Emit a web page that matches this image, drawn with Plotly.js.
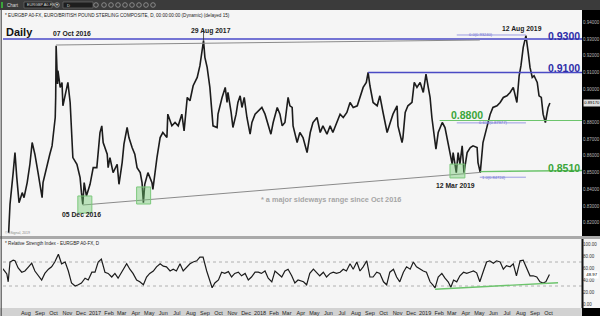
<!DOCTYPE html>
<html><head><meta charset="utf-8">
<script src="https://cdn.plot.ly/plotly-3.0.1.min.js"></script>
<style>html,body{margin:0;padding:0;background:#f5f5f5;overflow:hidden}#chart{width:600px;height:316px}</style>
</head><body><div id="chart"></div>
<script>
// ---------- DATA ----------
const priceDates = [
'2016-06-24','2016-06-27','2016-07-04','2016-07-08','2016-07-12','2016-07-17','2016-07-24','2016-07-28','2016-08-04','2016-08-10',
'2016-08-15','2016-08-21','2016-08-28','2016-09-06','2016-09-08','2016-09-17','2016-09-23','2016-09-28','2016-10-05','2016-10-06',
'2016-10-07','2016-10-10','2016-10-11','2016-10-16','2016-10-20','2016-10-22','2016-10-27','2016-10-31','2016-11-02','2016-11-07',
'2016-11-11','2016-11-13','2016-11-22','2016-11-29','2016-12-02','2016-12-05','2016-12-08','2016-12-13','2016-12-21','2016-12-28',
'2017-01-05','2017-01-08','2017-01-12','2017-01-16','2017-01-19','2017-01-28','2017-01-30','2017-02-03','2017-02-10','2017-02-19',
'2017-02-23','2017-03-02','2017-03-06','2017-03-13','2017-03-17','2017-03-24','2017-03-30','2017-04-04','2017-04-11','2017-04-15',
'2017-04-18','2017-04-21','2017-04-28','2017-05-07','2017-05-09','2017-05-18','2017-05-25','2017-05-31','2017-06-09','2017-06-11',
'2017-06-20','2017-06-27','2017-07-04','2017-07-12','2017-07-17','2017-07-24','2017-07-30','2017-08-06','2017-08-15','2017-08-21',
'2017-08-26','2017-08-29','2017-09-01','2017-09-06','2017-09-12','2017-09-17','2017-09-19','2017-09-28','2017-09-30','2017-10-09',
'2017-10-16','2017-10-20','2017-10-22','2017-10-29','2017-11-02','2017-11-09','2017-11-13','2017-11-18','2017-11-22','2017-11-27',
'2017-12-03','2017-12-10','2017-12-14','2017-12-21','2017-12-28','2018-01-05','2018-01-12','2018-01-19','2018-01-25','2018-01-30',
'2018-02-08','2018-02-14','2018-02-19','2018-02-25','2018-03-04','2018-03-08','2018-03-13','2018-03-15','2018-03-19','2018-03-24',
'2018-03-30','2018-04-06','2018-04-15','2018-04-22','2018-04-28','2018-05-07','2018-05-14','2018-05-20','2018-05-29','2018-06-05',
'2018-06-11','2018-06-20','2018-06-27','2018-07-04','2018-07-12','2018-07-19','2018-07-26','2018-08-04','2018-08-10','2018-08-17',
'2018-08-24','2018-08-28','2018-09-01','2018-09-08','2018-09-17','2018-09-23','2018-09-30','2018-10-09','2018-10-16','2018-10-22',
'2018-10-31','2018-11-02','2018-11-11','2018-11-13','2018-11-18','2018-11-24','2018-12-03','2018-12-08','2018-12-14','2018-12-21',
'2018-12-28','2019-01-03','2019-01-08','2019-01-12','2019-01-16','2019-01-21','2019-01-25','2019-01-30','2019-02-08','2019-02-14',
'2019-02-21','2019-03-02','2019-03-04','2019-03-11','2019-03-15','2019-03-19','2019-03-24','2019-03-28','2019-04-04','2019-04-11',
'2019-04-17','2019-04-26','2019-04-28','2019-05-03','2019-05-09','2019-05-18','2019-05-25','2019-05-31','2019-06-09','2019-06-16',
'2019-06-23','2019-07-01','2019-07-08','2019-07-15','2019-07-23','2019-07-28','2019-08-01','2019-08-06','2019-08-12','2019-08-17',
'2019-08-21','2019-08-26','2019-08-30','2019-09-06','2019-09-10','2019-09-15','2019-09-19','2019-09-24','2019-09-28','2019-09-30',
'2019-10-04'];
const priceValues = [
0.814,0.831,0.850,0.862,0.847,0.832,0.838,0.835,0.844,0.855,
0.868,0.861,0.850,0.835,0.844,0.855,0.861,0.866,0.883,0.895,
0.926,0.903,0.911,0.901,0.904,0.890,0.896,0.901,0.904,0.892,
0.873,0.859,0.855,0.847,0.838,0.831,0.844,0.836,0.843,0.853,
0.853,0.862,0.874,0.878,0.868,0.861,0.853,0.859,0.850,0.855,
0.843,0.856,0.867,0.877,0.871,0.865,0.861,0.853,0.850,0.844,
0.832,0.843,0.850,0.844,0.840,0.859,0.871,0.874,0.871,0.885,
0.878,0.880,0.878,0.885,0.875,0.895,0.893,0.902,0.907,0.914,
0.922,0.929,0.919,0.913,0.901,0.886,0.878,0.877,0.885,0.895,
0.901,0.892,0.898,0.886,0.877,0.885,0.892,0.896,0.889,0.895,
0.883,0.873,0.880,0.885,0.887,0.889,0.885,0.878,0.873,0.880,
0.889,0.885,0.878,0.880,0.895,0.890,0.889,0.878,0.873,0.868,
0.874,0.871,0.862,0.874,0.880,0.883,0.874,0.878,0.873,0.878,
0.874,0.880,0.885,0.883,0.886,0.892,0.889,0.890,0.895,0.901,
0.904,0.910,0.902,0.892,0.890,0.896,0.886,0.874,0.880,0.885,
0.890,0.878,0.868,0.871,0.886,0.890,0.892,0.904,0.901,0.904,
0.898,0.909,0.901,0.895,0.883,0.873,0.864,0.874,0.880,0.877,
0.868,0.855,0.862,0.850,0.862,0.855,0.866,0.850,0.862,0.865,
0.866,0.865,0.856,0.850,0.868,0.878,0.885,0.889,0.890,0.892,
0.895,0.896,0.898,0.901,0.892,0.908,0.914,0.925,0.932,0.922,
0.913,0.907,0.908,0.904,0.896,0.895,0.885,0.880,0.885,0.889,
0.8917];

const rsiDates = [
'2016-06-05','2016-06-12','2016-06-20','2016-06-23','2016-06-27','2016-07-04','2016-07-08','2016-07-15','2016-07-23','2016-07-30',
'2016-08-07','2016-08-14','2016-08-21','2016-08-29','2016-09-05','2016-09-12','2016-09-20','2016-09-27','2016-10-04','2016-10-12',
'2016-10-19','2016-10-27','2016-11-03','2016-11-10','2016-11-18','2016-11-25','2016-12-02','2016-12-10','2016-12-17','2016-12-25',
'2017-01-01','2017-01-08','2017-01-15','2017-01-23','2017-01-30','2017-02-07','2017-02-14','2017-02-21','2017-03-01','2017-03-12',
'2017-03-19','2017-03-26','2017-04-03','2017-04-10','2017-04-18','2017-04-25','2017-05-02','2017-05-10','2017-05-17','2017-05-25',
'2017-06-01','2017-06-08','2017-06-16','2017-06-23','2017-06-30','2017-07-08','2017-07-15','2017-07-23','2017-07-30','2017-08-06',
'2017-08-14','2017-08-21','2017-08-28','2017-09-05','2017-09-12','2017-09-17','2017-09-23','2017-10-01','2017-10-08','2017-10-15',
'2017-10-23','2017-10-30','2017-11-06','2017-11-14','2017-11-21','2017-11-29','2017-12-06','2017-12-13','2017-12-21','2017-12-28',
'2018-01-04','2018-01-12','2018-01-19','2018-01-27','2018-02-03','2018-02-10','2018-02-18','2018-02-25','2018-03-04','2018-03-12',
'2018-03-19','2018-03-26','2018-04-07','2018-04-14','2018-04-21','2018-04-29','2018-05-06','2018-05-13','2018-05-21','2018-05-28',
'2018-06-05','2018-06-12','2018-06-19','2018-06-27','2018-07-04','2018-07-11','2018-07-19','2018-07-26','2018-08-03','2018-08-10',
'2018-08-17','2018-08-25','2018-09-01','2018-09-08','2018-09-16','2018-09-23','2018-10-01','2018-10-08','2018-10-15','2018-10-23',
'2018-10-30','2018-11-06','2018-11-14','2018-11-21','2018-11-29','2018-12-06','2018-12-13','2018-12-21','2018-12-28','2019-01-04',
'2019-01-12','2019-01-18','2019-01-23','2019-01-30','2019-02-07','2019-02-14','2019-02-21','2019-02-27','2019-03-05','2019-03-12',
'2019-03-19','2019-03-27','2019-04-03','2019-04-10','2019-04-18','2019-04-25','2019-05-02','2019-05-10','2019-05-17','2019-05-24',
'2019-06-01','2019-06-08','2019-06-16','2019-06-23','2019-06-30','2019-07-08','2019-07-15','2019-07-22','2019-07-30','2019-08-06',
'2019-08-14','2019-08-21','2019-08-28','2019-09-05','2019-09-12','2019-09-19','2019-09-25','2019-10-03'];
const rsiValues = [
58,58,50,37,70,73,72,60,53,55,
62,68,55,48,40,51,58,62,70,83,
67,70,55,35,30,32,35,43,40,53,
53,70,75,53,51,45,51,43,53,67,
58,51,40,37,32,45,51,55,62,67,
63,62,55,58,55,67,55,62,67,70,
72,78,78,55,40,27,35,40,53,51,
54,45,51,53,47,51,40,45,53,53,
51,55,43,37,55,51,45,55,58,47,
35,40,37,32,51,58,53,47,53,45,
51,53,51,53,58,55,67,58,70,55,
62,72,45,45,53,51,37,32,53,58,
45,37,53,62,58,70,62,58,55,53,
37,32,27,45,51,43,37,28,40,37,
47,53,51,53,55,52,37,55,70,72,
68,72,70,58,64,62,67,47,72,73,
58,47,47,45,37,35,37,49];

const monthTickDates = ['2016-08-01','2016-09-01','2016-10-01','2016-11-01','2016-12-01',
'2017-01-01','2017-02-01','2017-03-01','2017-04-01','2017-05-01','2017-06-01','2017-07-01','2017-08-01','2017-09-01','2017-10-01','2017-11-01','2017-12-01',
'2018-01-01','2018-02-01','2018-03-01','2018-04-01','2018-05-01','2018-06-01','2018-07-01','2018-08-01','2018-09-01','2018-10-01','2018-11-01','2018-12-01',
'2019-01-01','2019-02-01','2019-03-01','2019-04-01','2019-05-01','2019-06-01','2019-07-01','2019-08-01','2019-09-01','2019-10-01'];
const monthTickLabels = ['Aug','Sep','Oct','Nov','Dec',
'2017','Feb','Mar','Apr','May','Jun','Jul','Aug','Sep','Oct','Nov','Dec',
'2018','Feb','Mar','Apr','May','Jun','Jul','Aug','Sep','Oct','Nov','Dec',
'2019','Feb','Mar','Apr','May','Jun','Jul','Aug','Sep','Oct'];
// 0.89000 is hidden under the last-price marker in the reference
const priceTickValues = [0.82,0.83,0.84,0.85,0.86,0.87,0.88,0.90,0.91,0.92,0.93,0.94];
const priceTickLabels = ['0.82000','0.83000','0.84000','0.85000','0.86000','0.87000','0.88000','0.90000','0.91000','0.92000','0.93000','0.94000'];
const rsiTickValues = [0,20,40,60,80,100];
const rsiTickLabels = ['0.00','20.00','40.00','60.00','80.00','100.00'];
const lastPriceLabel = '0.89170';
const lastRsiLabel = '48.97';

// key levels / drawings
const resistanceTop = 0.93, resistanceMid = 0.91, supportMid = 0.8812, supportLow = 0.851;
const midResStart = '2018-08-28', midSupStart = '2019-02-02', lowSupStart = '2019-05-03';
const upperTrend = {d:['2016-10-07','2019-05-02'], v:[0.9264,0.9294]};
const lowerTrend = {d:['2016-12-05','2019-05-03'], v:[0.8306,0.8501]};
const fibLevels = [
 {v:0.9324,t:'0.0(0.93240)',d0:'2019-03-12',lab:'2019-04-05'},
 {v:0.87977,t:'0.618(0.87977)',d0:'2019-03-12',lab:'2019-04-28'},
 {v:0.84724,t:'1.0(0.84724)',d0:'2019-05-02',lab:'2019-05-04'}];
const fibEnd = '2019-08-12';
const lowBoxes = [
 {d:['2016-11-24','2016-12-25'], v:[0.8258,0.8360]},
 {d:['2017-04-03','2017-05-04'], v:[0.8312,0.8414]},
 {d:['2019-02-25','2019-03-30'], v:[0.8468,0.8551]}];
const rsiTrend = {d:['2019-01-23','2019-10-22'], v:[24.5,35.5]};
const rsiBands = [70,30];

// ---------- LAYOUT HELPERS (pixel -> paper) ----------
const L=3, R=18, T=11, B=8, W=600, H=316;
const pw=W-L-R, ph=H-T-B;
const px=x=>(x-L)/pw, py=y=>(H-B-y)/ph;
const FONT='Liberation Sans, Arial, sans-serif';

const shapes=[], annotations=[];
function rectPx(x0,y0,x1,y1,fill,line,layer){shapes.push({type:'rect',xref:'paper',yref:'paper',x0:px(x0),x1:px(x1),y0:py(y1),y1:py(y0),fillcolor:fill,line:{width:line?line.w:0,color:line?line.c:fill},layer:layer||'below'});}
function linePx(x0,y0,x1,y1,c,w,layer){shapes.push({type:'line',xref:'paper',yref:'paper',x0:px(x0),x1:px(x1),y0:py(y0),y1:py(y1),line:{color:c,width:w},layer:layer||'above'});}
function textPx(t,x,y,size,color,opts){opts=opts||{};annotations.push(Object.assign({text:t,xref:'paper',yref:'paper',x:px(x),y:py(y),xanchor:'left',yanchor:'middle',showarrow:false,font:{family:FONT,size:size,color:color}},opts));}

// chrome
rectPx(0,0,600,10,'#3b3b3b');
rectPx(582,10,600,237,'#000000');
rectPx(0,236,600,239,'#a9a9a9',null,'above');
rectPx(0,308,582,316,'#d2d2d2');
rectPx(582,308,600,316,'#000000');
linePx(582.5,239,582.5,308,'#111',2);
linePx(1.2,10,1.2,316,'#555',1.2);
// toolbar widgets
rectPx(1,2,3,8,'#3aa53a');
rectPx(24,2,52,8,'#1e1e1e',{w:0.6,c:'#777'},'above');
rectPx(63,2,93,8,'#1e1e1e',{w:0.6,c:'#777'},'above');
[57,96,104,111,118,125,132,139,146,153].forEach(cx=>shapes.push({type:'circle',xref:'paper',yref:'paper',x0:px(cx-2.3),x1:px(cx+2.3),y0:py(7.3),y1:py(2.7),line:{color:'#9a9a9a',width:0.8},layer:'above'}));
textPx('Chart',5,5,4.5,'#dddddd');
textPx('EURGBP A0-FX ▾',25,5,3.8,'#dddddd');
textPx('D',65,5,4,'#dddddd');

// texts
textPx('* EURGBP A0-FX, EURO/BRITISH POUND STERLING COMPOSITE, D, 00:00:00:00 (Dynamic) (delayed 15)',3,15,4.6,'#222');
textPx('<b>Daily</b>',4,32.5,11,'#111');
textPx('<b>07 Oct 2016</b>',51,33,6.8,'#222');
textPx('<b>29 Aug 2017</b>',211,31.5,6.8,'#222',{xanchor:'center'});
textPx('<b>12 Aug 2019</b>',522,29,6.8,'#222',{xanchor:'center'});
textPx('<b>0.9300</b>',581.5,35.5,10.5,'#2e2ea8',{xanchor:'right'});
textPx('<b>0.9100</b>',581.5,68.5,10.5,'#2e2ea8',{xanchor:'right'});
textPx('<b>0.8800</b>',450,114.5,10.5,'#3aa53a',{borderpad:0});
textPx('<b>0.8510</b>',581.5,167.5,10.5,'#3aa53a',{xanchor:'right'});
textPx('<b>05 Dec 2016</b>',81,214,6.8,'#222',{xanchor:'center'});
textPx('<b>12 Mar 2019</b>',455,185,6.8,'#222',{xanchor:'center'});
textPx('<b>* a major sideways range since Oct 2016</b>',331,199.5,7.3,'#a6a6a6',{xanchor:'center'});
textPx('© eSignal, 2019',3,233,3.5,'#888');
textPx('* Relative Strength Index - EURGBP A0-FX, D',3,243.5,4.6,'#222');
textPx(lastPriceLabel,582.6,103,4.2,'#000',{bgcolor:'#e0e0e0',borderpad:0.3});
textPx(lastRsiLabel,585,274.5,4.3,'#000',{bgcolor:'#ffffff',borderpad:0.3});

// data-referenced drawings
shapes.push({type:'line',xref:'paper',yref:'y',x0:0,x1:1,y0:resistanceTop,y1:resistanceTop,line:{color:'#7474d4',width:2},layer:'above'});
shapes.push({type:'line',xref:'x',yref:'y',x0:upperTrend.d[0],x1:upperTrend.d[1],y0:upperTrend.v[0],y1:upperTrend.v[1],line:{color:'#8a8a8a',width:1},layer:'above'});
shapes.push({type:'line',xref:'x',yref:'y',x0:midResStart,x1:'2019-12-14',y0:resistanceMid,y1:resistanceMid,line:{color:'#4a4ac4',width:1.5},layer:'above'});
shapes.push({type:'line',xref:'x',yref:'y',x0:midSupStart,x1:'2019-12-14',y0:supportMid,y1:supportMid,line:{color:'#6cc46c',width:1.2},layer:'above'});
shapes.push({type:'line',xref:'x',yref:'y',x0:lowSupStart,x1:'2019-12-14',y0:supportLow-0.0004,y1:supportLow+0.0003,line:{color:'#6cc46c',width:1.4},layer:'above'});
shapes.push({type:'line',xref:'x',yref:'y',x0:lowerTrend.d[0],x1:lowerTrend.d[1],y0:lowerTrend.v[0],y1:lowerTrend.v[1],line:{color:'#8a8a8a',width:1},layer:'above'});
shapes.push({type:'line',xref:'x',yref:'y',x0:'2017-08-29',x1:'2017-08-29',y0:0.929,y1:0.9355,line:{color:'#333',width:0.8},layer:'above'});
fibLevels.forEach(f=>{
  shapes.push({type:'line',xref:'x',yref:'y',x0:f.d0,x1:fibEnd,y0:f.v,y1:f.v,line:{color:'#9c9ce4',width:1},layer:'above'});
  annotations.push({text:f.t,xref:'x',yref:'y',x:f.lab,y:f.v,xanchor:'left',yanchor:'middle',showarrow:false,borderpad:0,font:{family:FONT,size:4.1,color:'#6a6ad0'}});
});
lowBoxes.forEach(b=>shapes.push({type:'rect',xref:'x',yref:'y',x0:b.d[0],x1:b.d[1],y0:b.v[0],y1:b.v[1],fillcolor:'rgba(110,200,110,0.42)',line:{color:'#7cc87c',width:1},layer:'above'}));
rsiBands.forEach(v=>shapes.push({type:'line',xref:'paper',yref:'y2',x0:0,x1:1,y0:v,y1:v,line:{color:'#a0a0a0',width:0.8,dash:'dot'},layer:'below'}));
shapes.push({type:'line',xref:'x',yref:'y2',x0:rsiTrend.d[0],x1:rsiTrend.d[1],y0:rsiTrend.v[0],y1:rsiTrend.v[1],line:{color:'#6cc46c',width:1.4},layer:'above'});

const traces=[
 {type:'scatter',mode:'lines',x:priceDates,y:priceValues,xaxis:'x',yaxis:'y',line:{color:'#1c1c1c',width:1.6},hoverinfo:'skip'},
 {type:'scatter',mode:'lines',x:rsiDates,y:rsiValues,xaxis:'x',yaxis:'y2',line:{color:'#1c1c1c',width:1.2},hoverinfo:'skip'}
];

const layout={
 width:W,height:H,margin:{l:L,r:R,t:T,b:B,pad:0},
 paper_bgcolor:'#f5f5f5',plot_bgcolor:'#f5f5f5',showlegend:false,
 font:{family:FONT},
 xaxis:{type:'date',range:['2016-06-11 12:00','2019-12-14'],anchor:'y2',tickvals:monthTickDates,ticktext:monthTickLabels,
   tickfont:{size:5.5,color:'#222',family:FONT},ticks:'',showgrid:false,zeroline:false,showline:false,ticklabelstandoff:0},
 yaxis:{domain:[py(237),1],range:[0.811437,0.946766],side:'right',anchor:'x',tickvals:priceTickValues,ticktext:priceTickLabels,
   tickfont:{size:4.5,color:'#b8b8b8',family:FONT},ticks:'',showgrid:false,zeroline:false,showline:false},
 yaxis2:{domain:[0,py(240)],range:[-6.667,106.667],side:'right',anchor:'x',tickvals:rsiTickValues,ticktext:rsiTickLabels,
   tickfont:{size:4.5,color:'#333',family:FONT},ticks:'',showgrid:false,zeroline:false,showline:false},
 shapes:shapes,annotations:annotations
};
Plotly.newPlot('chart',traces,layout,{staticPlot:true,displayModeBar:false});
</script></body></html>
